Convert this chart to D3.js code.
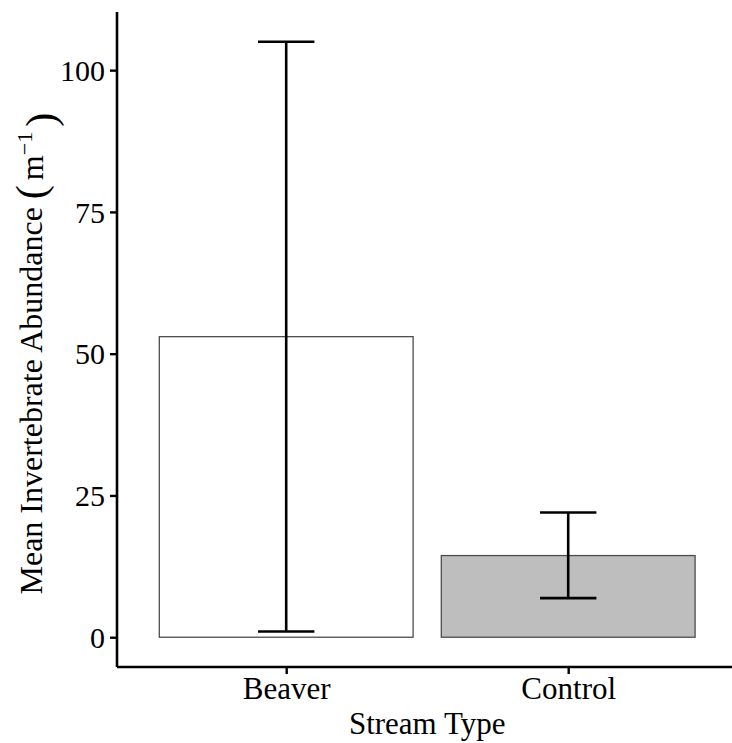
<!DOCTYPE html>
<html>
<head>
<meta charset="utf-8">
<script src="https://cdn.jsdelivr.net/npm/d3@7/dist/d3.min.js"></script>
<style>
  html, body { margin: 0; padding: 0; background: #fff; }
  svg { display: block; }
  text { font-family: "Liberation Serif", "Times New Roman", serif; fill: #000; }
</style>
</head>
<body>
<svg id="chart" width="732" height="743"></svg>
<script>
// Mean invertebrate abundance per stream type, with error bar limits
const streamTypes = ["Beaver", "Control"];
const meanAbundance = [53, 14.4];
const lowerLimit = [1, 6.9];
const upperLimit = [105, 22];
const barFills = ["#ffffff", "#bebebe"];
const yTicks = [0, 25, 50, 75, 100];

const svg = d3.select("#chart");
const W = 732, H = 743;
const plotLeft = 117, plotTop = 12, plotBottom = 667;

// y domain padded 5% beyond the data range, as the plot grid does
const yMax = d3.max(upperLimit);
const yPad = yMax * 0.05;
const y = d3.scaleLinear().domain([-yPad, yMax + yPad]).range([plotBottom, plotTop]);

// discrete x positions: categories at 1..n with 0.6 padding each side
const unit = 282;
const x = d3.scaleLinear().domain([0.4, streamTypes.length + 0.6])
  .range([plotLeft, plotLeft + unit * (streamTypes.length + 0.2)]);

const data = streamTypes.map((s, i) => ({
  s, i, mean: meanAbundance[i], lo: lowerLimit[i], hi: upperLimit[i], fill: barFills[i]
}));

// bars
svg.append("g").selectAll("rect").data(data).join("rect")
  .attr("x", d => x(d.i + 1 - 0.45))
  .attr("width", d => x(d.i + 1 + 0.45) - x(d.i + 1 - 0.45))
  .attr("y", d => y(d.mean))
  .attr("height", d => y(0) - y(d.mean))
  .attr("fill", d => d.fill)
  .attr("stroke", "#4d4d4d")
  .attr("stroke-width", 1.3);

// error bars
const eb = svg.append("g").attr("stroke", "#000").attr("stroke-width", 2.6).attr("fill", "none");
data.forEach(d => {
  const cx = x(d.i + 1), c0 = x(d.i + 1 - 0.1), c1 = x(d.i + 1 + 0.1);
  eb.append("line").attr("x1", cx).attr("x2", cx).attr("y1", y(d.lo)).attr("y2", y(d.hi));
  eb.append("line").attr("x1", c0).attr("x2", c1).attr("y1", y(d.hi)).attr("y2", y(d.hi));
  eb.append("line").attr("x1", c0).attr("x2", c1).attr("y1", y(d.lo)).attr("y2", y(d.lo));
});

// y axis
const yAxis = svg.append("g").attr("transform", `translate(${plotLeft},0)`)
  .call(d3.axisLeft(y).tickValues(yTicks).tickSize(7).tickPadding(5));
yAxis.select(".domain").attr("stroke", "#000").attr("stroke-width", 2.6)
  .attr("d", `M0,${plotTop}V${plotBottom}`);
yAxis.selectAll(".tick line").attr("stroke", "#000").attr("stroke-width", 2.4);
yAxis.selectAll(".tick text").style("font-size", "30px")
  .attr("font-family", "Liberation Serif").attr("dy", "0.34em");

// x axis
const xAxis = svg.append("g").attr("transform", `translate(0,${plotBottom})`)
  .call(d3.axisBottom(x).tickValues(streamTypes.map((s, i) => i + 1))
    .tickFormat(v => streamTypes[v - 1]).tickSize(7).tickPadding(3));
xAxis.select(".domain").attr("stroke", "#000").attr("stroke-width", 2.6)
  .attr("d", `M${plotLeft},0H${W}`);
xAxis.selectAll(".tick line").attr("stroke", "#000").attr("stroke-width", 2.4);
xAxis.selectAll(".tick text").style("font-size", "31px")
  .attr("font-family", "Liberation Serif");

// axis titles
svg.append("text")
  .attr("x", (x(1) + x(2)) / 2).attr("y", 734)
  .attr("text-anchor", "middle").style("font-size", "31px")
  .text("Stream Type");

// y title: plain words, then a bracketed unit with a superscript exponent
const yTitle = svg.append("text")
  .attr("transform", `translate(42,${(y(0) + y(100)) / 2}) rotate(-90)`)
  .attr("text-anchor", "middle").style("font-size", "32px");
yTitle.append("tspan").text("Mean Invertebrate Abundance ");
yTitle.append("tspan").style("font-size", "42px").style("font-weight", "300")
  .attr("dy", "0.08em").text("(");
yTitle.append("tspan").attr("dx", "5").attr("dy", "-0.08em").text("m");
yTitle.append("tspan").attr("dy", "-0.5em").style("font-size", "22px").text("\u22121");
yTitle.append("tspan").attr("dx", "5").attr("dy", "0.56em").style("font-size", "42px")
  .style("font-weight", "300").text(")");
</script>
</body>
</html>
